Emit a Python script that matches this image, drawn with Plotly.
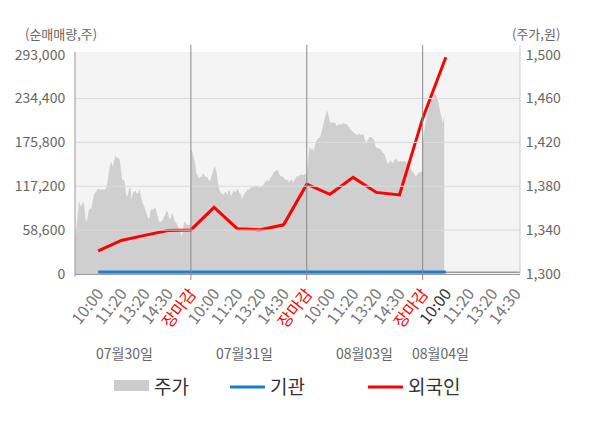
import plotly.graph_objs as go

# Price (주가, 원) sampled through each trading day
price_day1 = [1335, 1342, 1354, 1367, 1362, 1363, 1366, 1362, 1348, 1349,
              1357, 1360, 1359, 1366, 1372, 1374, 1376, 1378, 1377, 1377,
              1377, 1377, 1377, 1378, 1383, 1392, 1399, 1402, 1398, 1403,
              1408, 1406, 1406, 1405, 1395, 1386, 1386, 1383, 1371, 1371,
              1377, 1380, 1368, 1374, 1375, 1376, 1373, 1374, 1377, 1369,
              1365, 1363, 1359, 1357, 1352, 1350, 1357, 1360, 1358, 1361,
              1359, 1354, 1349, 1347, 1348, 1349, 1352, 1354, 1358, 1356,
              1350, 1351, 1356, 1351, 1348, 1347, 1345, 1341, 1340, 1334,
              1339, 1348, 1346, 1345, 1345, 1345, 1344]
price_day2 = [1413, 1412, 1407, 1401, 1392, 1389, 1387, 1389, 1388, 1392,
              1390, 1388, 1389, 1386, 1384, 1388, 1393, 1396, 1398, 1393,
              1384, 1377, 1374, 1373, 1372, 1374, 1375, 1372, 1377, 1375,
              1371, 1374, 1377, 1374, 1377, 1377, 1374, 1373, 1368, 1371,
              1374, 1375, 1377, 1377, 1378, 1379, 1379, 1379, 1380, 1380,
              1379, 1379, 1379, 1380, 1382, 1384, 1385, 1386, 1384, 1388,
              1389, 1392, 1393, 1394, 1395, 1393, 1390, 1389, 1389, 1388,
              1386, 1386, 1386, 1383, 1386, 1386, 1383, 1386, 1388, 1390,
              1389, 1391, 1391, 1390, 1391, 1391, 1390]
price_day3 = [1388, 1403, 1417, 1413, 1415, 1412, 1418, 1421, 1423, 1424,
              1425, 1430, 1436, 1439, 1445, 1449, 1446, 1439, 1438, 1438,
              1438, 1438, 1435, 1436, 1436, 1437, 1436, 1438, 1437, 1437,
              1436, 1434, 1433, 1431, 1430, 1429, 1428, 1427, 1427, 1428,
              1427, 1427, 1428, 1422, 1418, 1422, 1424, 1425, 1425, 1423,
              1422, 1416, 1415, 1415, 1414, 1414, 1411, 1410, 1408, 1404,
              1401, 1401, 1404, 1402, 1401, 1404, 1405, 1404, 1402, 1403,
              1403, 1402, 1403, 1403, 1401, 1403, 1401, 1396, 1394, 1392,
              1391, 1389, 1391, 1392, 1393, 1393, 1393]
price_day4 = [1420, 1432, 1438, 1443, 1448, 1451, 1457, 1460, 1463, 1465,
              1463, 1460, 1454, 1448, 1443, 1437, 1445]

# Net buying (순매매량, 주) at each tick time
foreign = [31000, 44800, 51600, 58000, 58900, 89000, 60500, 59000, 65700,
           120000, 106500, 129000, 109000, 105600, 207800, 289500]
institution = [2600, 2600, 2600, 2600, 2600, 2600, 2600, 2600, 2600,
               2600, 2600, 2600, 2600, 2600, 2600, 2600]

tick_times = ["10:00", "11:20", "13:20", "14:30", "장마감"]
day_labels = ["07월30일", "07월31일", "08월03일", "08월04일"]
left_ticks = [0, 58600, 117200, 175800, 234400, 293000]
right_ticks = [1300, 1340, 1380, 1420, 1460, 1500]

# x positions: each day covers 5 tick slots, the session starts one slot before 10:00
price_x, price_y = [], []
for d, day in enumerate([price_day1, price_day2, price_day3, price_day4]):
    start = 5 * d - 1
    for k, v in enumerate(day):
        price_x.append(start + k * 5 / 86)
        price_y.append(v)

ticktext = []
for d in range(4):
    for t in tick_times:
        if d == 3 and t == "장마감":
            continue
        if t == "장마감":
            ticktext.append('<span style="color:#ff0000">장마감</span>')
        elif d == 3 and t == "10:00":
            ticktext.append('<span style="color:#333333">10:00</span>')
        else:
            ticktext.append(t)

net_x = list(range(len(foreign)))

fig = go.Figure()
fig.add_trace(go.Scatter(x=price_x, y=price_y, name="주가", yaxis="y",
                         mode="lines", line=dict(width=0, color="#cfcfcf"),
                         fill="tozeroy", fillcolor="#cfcfcf", hoverinfo="skip",
                         showlegend=False))
# legend swatch for the price area
fig.add_trace(go.Scatter(x=[None], y=[None], name="주가", yaxis="y", mode="lines",
                         line=dict(width=14, color="#cccccc"), fill="tozeroy",
                         fillcolor="#cccccc", legend="legend"))
fig.add_trace(go.Scatter(x=net_x, y=institution, name="기관", yaxis="y2",
                         mode="lines", line=dict(width=3, color="#1a7fcf"),
                         legend="legend2"))
fig.add_trace(go.Scatter(x=net_x, y=foreign, name="외국인", yaxis="y2",
                         mode="lines", line=dict(width=3, color="#ff0000"),
                         legend="legend3"))

shapes = []
for v in left_ticks[1:-1]:
    shapes.append(dict(type="line", xref="paper", x0=0, x1=1, yref="y2", y0=v, y1=v,
                       line=dict(color="#dcdcdc", width=1), layer="above"))
shapes.append(dict(type="line", xref="paper", x0=0, x1=1, yref="y2", y0=2400, y1=2400,
                   line=dict(color="#9a9a9a", width=1.5), layer="below"))
for b in [4, 9, 14]:
    shapes.append(dict(type="line", xref="x", x0=b, x1=b, yref="paper", y0=-0.027, y1=1.032,
                       line=dict(color="#888888", width=1), layer="above"))
shapes.append(dict(type="line", xref="paper", x0=0, x1=0, yref="paper", y0=-0.014, y1=1.0,
                   line=dict(color="#999999", width=1), layer="above"))
shapes.append(dict(type="line", xref="paper", x0=1, x1=1, yref="paper", y0=0, y1=1.032,
                   line=dict(color="#cccccc", width=1), layer="above"))

annotations = [
    dict(text="(순매매량,주)", xref="paper", yref="paper", x=-0.1175, y=1.084,
         xanchor="left", yanchor="middle", showarrow=False, font=dict(size=13, color="#666")),
    dict(text="(주가,원)", xref="paper", yref="paper", x=1.094, y=1.084,
         xanchor="right", yanchor="middle", showarrow=False, font=dict(size=13, color="#666")),
]
for lbl, xpos in zip(day_labels, [1.15, 6.33, 11.5, 14.75]):
    annotations.append(dict(text=lbl, xref="x", yref="paper", x=xpos, y=-0.356,
                            xanchor="center", yanchor="middle", showarrow=False,
                            font=dict(size=14, color="#666")))

legend_style = dict(orientation="h", y=-0.51, xanchor="left", yanchor="middle",
                    font=dict(size=19, color="#333"), itemwidth=35,
                    bgcolor="rgba(0,0,0,0)")

fig.update_layout(
    width=600, height=428,
    margin=dict(l=75, r=80, t=52, b=154),
    paper_bgcolor="white", plot_bgcolor="#f4f4f4",
    font=dict(family="Noto Sans CJK KR", color="#666", size=14),
    xaxis=dict(range=[-1, 18.2], tickmode="array", tickvals=list(range(len(ticktext))),
               ticktext=ticktext, tickangle=-52, showgrid=False, zeroline=False,
               showline=True, linecolor="#999999", linewidth=1,
               ticks="outside", ticklen=3, tickcolor="rgba(0,0,0,0)",
               tickfont=dict(size=16, color="#777")),
    yaxis=dict(side="right", range=[1300, 1502.4], tickvals=right_ticks, tickformat=",d",
               showgrid=False, zeroline=False, ticks="outside", ticklen=2,
               tickcolor="rgba(0,0,0,0)", tickfont=dict(size=14, color="#666")),
    yaxis2=dict(overlaying="y", side="left", range=[0, 296500], tickvals=left_ticks,
                tickformat=",d", showgrid=False, zeroline=False, ticks="outside",
                ticklen=6, tickcolor="rgba(0,0,0,0)", tickfont=dict(size=14, color="#666")),
    legend=dict(legend_style, x=0.0764),
    legend2=dict(legend_style, x=0.337),
    legend3=dict(legend_style, x=0.647),
    shapes=shapes, annotations=annotations,
    showlegend=True,
)

# the page is photographed at exactly the figure size, so drop the default body margin
fig.write_html("out.html", config={"displayModeBar": False},
               post_script="document.body.style.margin='0';")
